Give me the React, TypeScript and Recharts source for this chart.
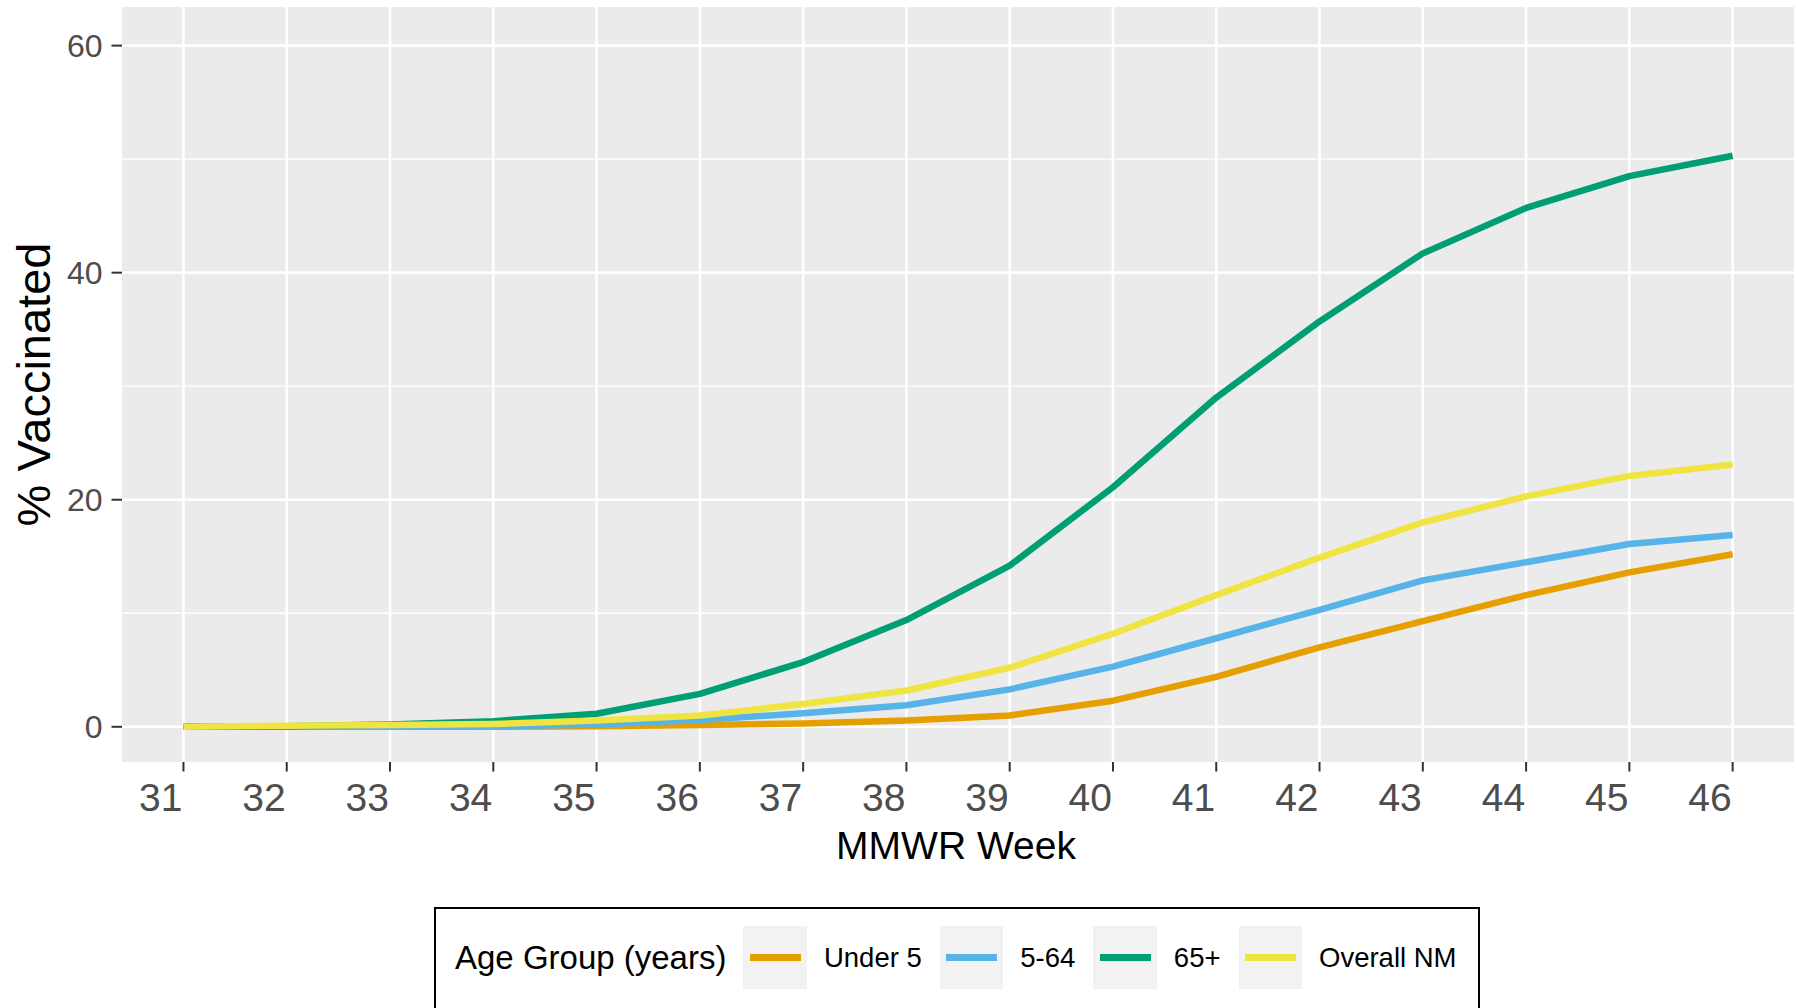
import React from 'react';
import { LineChart, Line, XAxis, YAxis, CartesianGrid, Label } from 'recharts';

// MMWR weeks and % vaccinated per age group
const weeks = [31, 32, 33, 34, 35, 36, 37, 38, 39, 40, 41, 42, 43, 44, 45, 46];
const under5 = [0, 0, 0, 0, 0.05, 0.15, 0.3, 0.55, 1.0, 2.3, 4.4, 7.0, 9.3, 11.6, 13.6, 15.2];
const age5to64 = [0, 0, 0, 0.05, 0.2, 0.6, 1.2, 1.9, 3.3, 5.3, 7.8, 10.3, 12.9, 14.5, 16.1, 16.9];
const age65plus = [0, 0.05, 0.2, 0.5, 1.15, 2.9, 5.7, 9.4, 14.2, 21.1, 29.0, 35.7, 41.7, 45.7, 48.5, 50.3];
const overallNM = [0, 0.1, 0.15, 0.25, 0.55, 1.0, 2.0, 3.2, 5.2, 8.2, 11.6, 14.9, 18.0, 20.3, 22.1, 23.1];

const yMajor = [0, 20, 40, 60];
const yMinor = [10, 30, 50];

const SERIES = [
  { key: 'under5', name: 'Under 5', color: '#E69F00', values: under5 },
  { key: 'age5to64', name: '5-64', color: '#56B4E9', values: age5to64 },
  { key: 'age65plus', name: '65+', color: '#009E73', values: age65plus },
  { key: 'overallNM', name: 'Overall NM', color: '#F0E442', values: overallNM },
];

const data = weeks.map((week, i) => {
  const row: Record<string, number> = { week };
  SERIES.forEach(s => { row[s.key] = s.values[i]; });
  return row;
});

const FONT = '"Liberation Sans", Arial, Helvetica, sans-serif';

// x tick labels sit right-aligned against their tick (hjust = 1)
const XTick = (props: any) => {
  const { x, y, payload } = props;
  return (
    <text x={x - 1} y={y} dy="0.71em" textAnchor="end" fill="#4D4D4D" fontSize={39} fontFamily={FONT}>
      {payload.value}
    </text>
  );
};

const App: React.FC = () => {
  return (
    <div style={{ position: 'fixed', left: 0, top: 0, width: 1796, height: 1008, overflow: 'hidden', background: '#fff' }}>
      <LineChart
        width={1796}
        height={880}
        data={data}
        margin={{ top: 7, right: 2, left: 0, bottom: 18 }}
      >
        {/* panel background + minor gridlines */}
        <CartesianGrid
          fill="#EBEBEB"
          stroke="#FFFFFF"
          strokeWidth={1.3}
          vertical={false}
          horizontalValues={yMinor}
        />
        {/* major gridlines */}
        <CartesianGrid
          stroke="#FFFFFF"
          strokeWidth={2.6}
          horizontalValues={yMajor}
          verticalValues={weeks}
        />
        <XAxis
          dataKey="week"
          type="number"
          domain={[30.405, 46.594]}
          allowDataOverflow
          ticks={weeks}
          interval={0}
          height={100}
          axisLine={false}
          tickLine={{ stroke: '#333333', strokeWidth: 2 }}
          tickSize={9.5}
          tickMargin={11.5}
          tick={<XTick />}
        >
          <Label
            content={(props: any) => {
              const vb = props.viewBox;
              return (
                <text x={vb.x + vb.width / 2 - 2} y={vb.y + 96.5} textAnchor="middle" fontSize={39} fill="#000" fontFamily={FONT}>
                  MMWR Week
                </text>
              );
            }}
          />
        </XAxis>
        <YAxis
          type="number"
          domain={[-3.1, 63.4]}
          allowDataOverflow
          ticks={yMajor}
          interval={0}
          width={122}
          axisLine={false}
          tickLine={{ stroke: '#333333', strokeWidth: 2 }}
          tickSize={10.5}
          tickMargin={9}
          tick={{ fill: '#4D4D4D', fontSize: 32, fontFamily: FONT }}
        >
          <Label
            content={(props: any) => {
              const vb = props.viewBox;
              const cx = vb.x + 50;
              const cy = vb.y + vb.height / 2;
              return (
                <text x={cx} y={cy} transform={`rotate(-90, ${cx}, ${cy})`} textAnchor="middle" fontSize={47} fill="#000" fontFamily={FONT}>
                  % Vaccinated
                </text>
              );
            }}
          />
        </YAxis>
        {SERIES.map(s => (
          <Line
            key={s.key}
            type="linear"
            dataKey={s.key}
            name={s.name}
            stroke={s.color}
            strokeWidth={6.5}
            strokeLinecap="butt"
            strokeLinejoin="round"
            dot={false}
            activeDot={false}
            isAnimationActive={false}
          />
        ))}
      </LineChart>

      {/* legend box along the bottom */}
      <div
        style={{
          position: 'absolute',
          left: 434,
          top: 907,
          width: 1046,
          height: 140,
          boxSizing: 'border-box',
          border: '2px solid #000',
          display: 'flex',
          alignItems: 'flex-start',
          paddingTop: 17,
          paddingLeft: 19,
          fontFamily: FONT,
        }}
      >
        <div style={{ height: 63, display: 'flex', alignItems: 'center', fontSize: 33, color: '#000', marginRight: 17, whiteSpace: 'nowrap' }}>
          Age Group (years)
        </div>
        {SERIES.map(s => (
          <div key={s.key} style={{ height: 63, display: 'flex', alignItems: 'center', marginRight: 18 }}>
            <div style={{ width: 63.5, height: 63, background: '#F2F2F2', display: 'flex', alignItems: 'center', justifyContent: 'center' }}>
              <div style={{ width: 51, height: 7, background: s.color }} />
            </div>
            <span style={{ marginLeft: 17, fontSize: 27.5, color: '#000', whiteSpace: 'nowrap' }}>{s.name}</span>
          </div>
        ))}
      </div>
    </div>
  );
};

export default App;
